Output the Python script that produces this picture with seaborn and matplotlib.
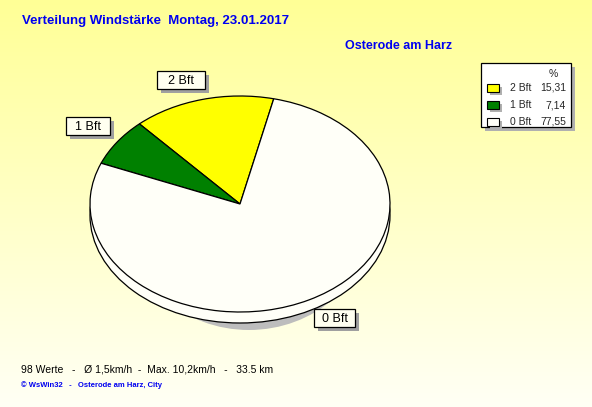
import numpy as np
import matplotlib
matplotlib.use("Agg")
import matplotlib.pyplot as plt
from matplotlib.patches import Ellipse, Rectangle
import seaborn as sns

# Daten
kategorien = ["2 Bft", "1 Bft", "0 Bft"]
prozent = [15.31, 7.14, 77.55]
prozent_text = ["15,31", "7,14", "77,55"]
farben = ["#FFFF00", "#008000", "#FFFFF8"]

titel = "Verteilung Windstärke  Montag, 23.01.2017"
ort = "Osterode am Harz"
info = "98 Werte   -   Ø 1,5km/h  -  Max. 10,2km/h   -   33.5 km"
copyright_text = "© WsWin32   -   Osterode am Harz, City"

sns.set_theme(style="white")
plt.rcParams['font.family'] = ['Liberation Sans', 'DejaVu Sans']

W, H = 592, 407
fig = plt.figure(figsize=(W / 100, H / 100), dpi=100)


def fx(x):
    return x / W


def fy(y):
    return 1 - y / H


# Hintergrund mit Farbverlauf
bg = fig.add_axes([0, 0, 1, 1])
grad = np.linspace(0, 1, 256).reshape(-1, 1)
oben = np.array([255, 255, 150]) / 255
unten = np.array([255, 255, 245]) / 255
img = oben[None, None, :] * (1 - grad[..., None]) + unten[None, None, :] * grad[..., None]
bg.imshow(img, aspect="auto", extent=[0, 1, 0, 1])
bg.axis("off")

# Kreisdiagramm (elliptisch, mit 3D-Rand)
left, right, top, bottom = 90, 390, 96, 312
ax = fig.add_axes([fx(left), fy(bottom), (right - left) / W, (bottom - top) / H])
ry = (bottom - top) / 2
tiefe = 11 / ry

schatten = Ellipse((0.06, -tiefe - 7 / ry), 1.6, 2, fc="#BDBDBD", ec="none", zorder=1, clip_on=False)
ax.add_patch(schatten)
rand = Ellipse((0, -tiefe), 2, 2, fc="#FFFFF8", ec="black", lw=0.9, zorder=2, clip_on=False)
ax.add_patch(rand)
wedges, _ = ax.pie(prozent, colors=farben, startangle=77, counterclock=True,
                   wedgeprops=dict(edgecolor="black", linewidth=0.9))
for w in wedges:
    w.set_zorder(3)
    w.set_clip_on(False)
ax.set_aspect("auto")
ax.set_xlim(-1, 1)
ax.set_ylim(-1, 1)
ax.axis("off")

# Ebene in Pixelkoordinaten fuer Kaesten und Legende
lg = fig.add_axes([0, 0, 1, 1])
lg.set_xlim(0, W)
lg.set_ylim(H, 0)
lg.axis("off")

# Beschriftungen der Segmente
label_box = [(157, 71, 48), (66, 117, 44), (314, 309, 41)]
for name, (bx, by, bw) in zip(kategorien, label_box):
    lg.add_patch(Rectangle((bx + 4, by + 4), bw, 18, fc="#A0A0A0", ec="none"))
    lg.add_patch(Rectangle((bx, by), bw, 18, fc="#FFFFF0", ec="black", lw=0.9))
    lg.text(bx + bw / 2, by + 9.5, name, fontsize=9, color="black", ha="center", va="center")

# Titel
fig.text(fx(22), fy(21), titel, fontsize=9.5, fontweight="bold", color="#0000F0", va="center")
fig.text(fx(345), fy(46), ort, fontsize=9, fontweight="bold", color="#0000F0", va="center")

# Legende
lg.add_patch(Rectangle((485, 67), 90, 64, fc="#B0B0B0", ec="none"))
lg.add_patch(Rectangle((481, 63), 90, 64, fc="white", ec="black", lw=0.9))
lg.text(553, 74, "%", fontsize=7.5, ha="center", va="center")
for i, (name, wert, farbe) in enumerate(zip(kategorien, prozent_text, farben)):
    y = 89 + i * 17
    lg.add_patch(Rectangle((490, y - 2), 12, 8, fc="#B0B0B0", ec="none"))
    lg.add_patch(Rectangle((487, y - 5), 12, 8, fc=farbe, ec="black", lw=0.8))
    lg.text(510, y - 1, name, fontsize=7.5, va="center")
    lg.text(566, y - 1, wert, fontsize=7.5, va="center", ha="right")

# Fusszeile
fig.text(fx(21), fy(369), info, fontsize=7.5, color="black", va="center")
fig.text(fx(21), fy(385), copyright_text, fontsize=5.5, fontweight="bold", color="#0000F0", va="center")

fig.savefig("out.png", dpi=100)
